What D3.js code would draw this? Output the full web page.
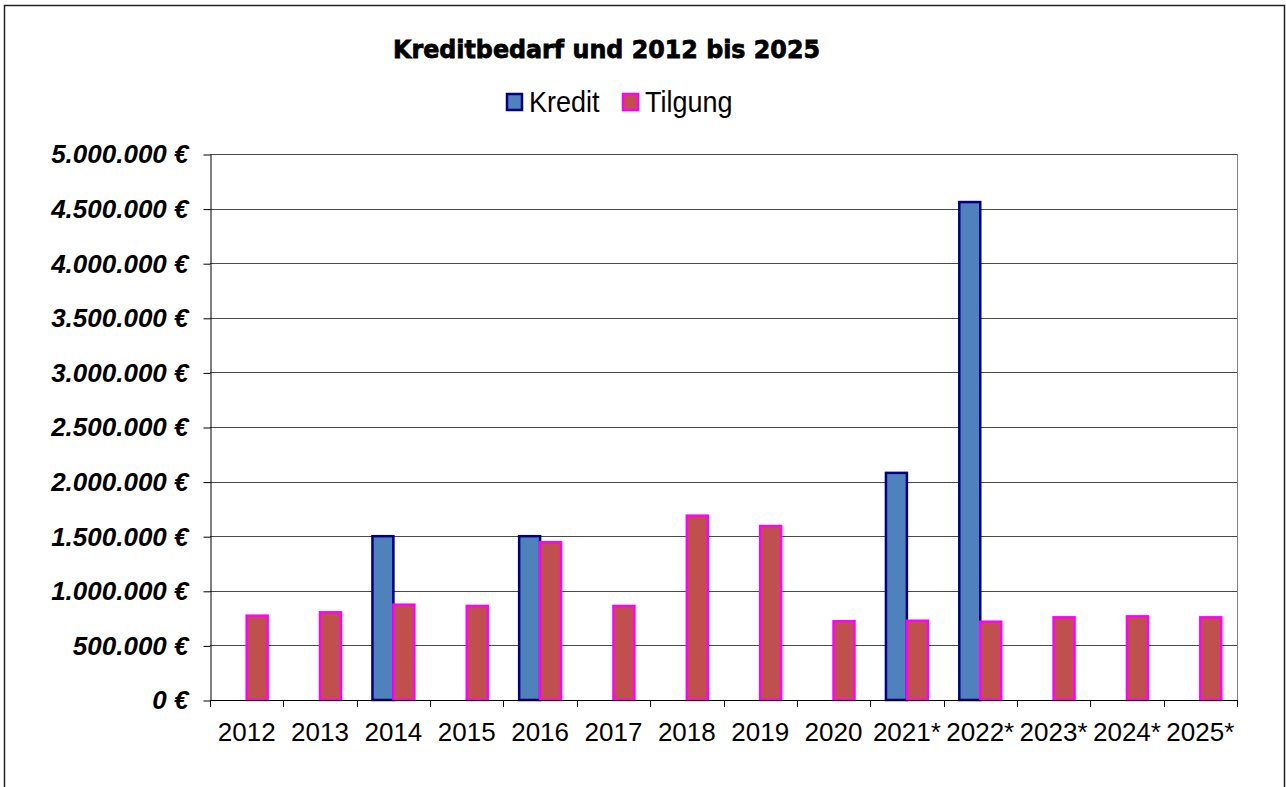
<!DOCTYPE html>
<html>
<head>
<meta charset="utf-8">
<script src="https://cdn.jsdelivr.net/npm/d3@7"></script>
<style>
  body { margin: 0; background: #fff; }
  svg { display: block; }
</style>
</head>
<body>
<div id="chart"></div>
<script>
// data
const years = ['2012', '2013', '2014', '2015', '2016', '2017', '2018', '2019', '2020',
    '2021*', '2022*', '2023*', '2024*', '2025*'];
const kredit = [0, 0, 1500000, 0, 1500000, 0, 0, 0, 0, 2080000, 4560000, 0, 0, 0];
const tilgung = [772000, 803000, 873000, 861000, 1445000, 861000, 1688000, 1593000,
    721000, 726000, 717000, 757000, 766000, 757000];
const seriesNames = ['Kredit', 'Tilgung'];
const yTicks = [0, 500000, 1000000, 1500000, 2000000, 2500000, 3000000, 3500000,
    4000000, 4500000, 5000000];

const width = 1286, height = 787;
const plot = {left: 210, top: 154, right: 1237, bottom: 700};
const fills = {Kredit: '#4F81BD', Tilgung: '#C0504D'};
const strokes = {Kredit: '#000080', Tilgung: '#FF00FF'};

let svg = d3.select('#chart').append('svg')
    .attr('width', width)
    .attr('height', height)
    .style('font-family', '"Liberation Sans", Arial, sans-serif');

// outer frame of the chart object
svg.append('rect')
    .attr('x', 4.5).attr('y', 5.5)
    .attr('width', 1280).attr('height', 800)
    .attr('fill', 'none')
    .attr('stroke', '#222')
    .attr('stroke-width', 1.5);

let xScale = d3.scaleBand()
    .domain(years)
    .range([plot.left, plot.right])
    .paddingInner(0)
    .paddingOuter(0);

let xSub = d3.scaleBand()
    .domain(seriesNames)
    .range([0, xScale.bandwidth()])
    .paddingInner(0)
    .paddingOuter(0.75);

let yScale = d3.scaleLinear()
    .domain([0, 5000000])
    .range([plot.bottom, plot.top]);

const de = d3.formatLocale({decimal: ',', thousands: '.', grouping: [3], currency: ['', ' €']});
const fmt = de.format(',.0f');

// gridlines
svg.append('g')
    .selectAll('line')
    .data(yTicks)
    .join('line')
    .attr('x1', plot.left)
    .attr('x2', plot.right)
    .attr('y1', d => Math.round(yScale(d)) + 0.5)
    .attr('y2', d => Math.round(yScale(d)) + 0.5)
    .attr('stroke', '#4a4a4a')
    .attr('stroke-width', 1);

// right border of the plot area
svg.append('line')
    .attr('x1', plot.right + 0.5).attr('x2', plot.right + 0.5)
    .attr('y1', plot.top).attr('y2', plot.bottom)
    .attr('stroke', '#808080');

// y axis
let yAxis = svg.append('g')
    .attr('transform', `translate(${plot.left + 0.5}, 0.5)`)
    .call(d3.axisLeft(yScale)
        .tickValues(yTicks)
        .tickSize(7)
        .tickSizeOuter(0)
        .tickPadding(15)
        .tickFormat(d => fmt(d) + ' €'));
yAxis.select('.domain').attr('stroke', '#000');
yAxis.selectAll('.tick line').attr('stroke', '#000');
yAxis.selectAll('text')
    .attr('fill', '#000')
    .style('font-family', '"Liberation Sans", Arial, sans-serif')
    .style('font-size', '26px')
    .style('font-weight', 'bold')
    .style('font-style', 'italic');

// bars
let groups = svg.append('g')
    .selectAll('g')
    .data(years.map((y, i) => ({year: y, Kredit: kredit[i], Tilgung: tilgung[i]})))
    .join('g')
    .attr('transform', d => `translate(${xScale(d.year)}, 0)`);

groups.selectAll('rect')
    .data(d => seriesNames.map(k => ({key: k, value: d[k]})).filter(e => e.value > 0))
    .join('rect')
    .attr('x', d => xSub(d.key))
    .attr('y', d => yScale(d.value))
    .attr('width', xSub.bandwidth())
    .attr('height', d => plot.bottom - yScale(d.value))
    .attr('fill', d => fills[d.key])
    .attr('stroke', d => strokes[d.key])
    .attr('stroke-width', 2.5);

// x axis line and boundary ticks
svg.append('line')
    .attr('x1', plot.left).attr('x2', plot.right + 1)
    .attr('y1', plot.bottom + 0.5).attr('y2', plot.bottom + 0.5)
    .attr('stroke', '#000');

let boundaries = years.map(y => xScale(y)).concat([plot.right]);
svg.append('g')
    .selectAll('line')
    .data(boundaries)
    .join('line')
    .attr('x1', d => Math.round(d) + 0.5)
    .attr('x2', d => Math.round(d) + 0.5)
    .attr('y1', plot.bottom)
    .attr('y2', plot.bottom + 7)
    .attr('stroke', '#000');

svg.append('g')
    .selectAll('text')
    .data(years)
    .join('text')
    .attr('x', d => xScale(d) + xScale.bandwidth() / 2)
    .attr('y', 741)
    .attr('text-anchor', 'middle')
    .attr('font-size', '26px')
    .attr('fill', '#000')
    .text(d => d);

// title (heavy face squeezed to the reference width)
svg.append('text')
    .attr('x', 393)
    .attr('y', 58)
    .attr('textLength', 427)
    .attr('lengthAdjust', 'spacingAndGlyphs')
    .style('font-family', '"DejaVu Sans", sans-serif')
    .style('font-weight', 'bold')
    .style('font-size', '25px')
    .attr('fill', '#000')
    .attr('stroke', '#000')
    .attr('stroke-width', 0.8)
    .text('Kreditbedarf und 2012 bis 2025');

// legend
let legend = svg.append('g')
    .selectAll('g')
    .data(seriesNames)
    .join('g')
    .attr('transform', (d, i) => `translate(${[507, 623][i]}, 0)`);

legend.append('rect')
    .attr('x', 0).attr('y', 94)
    .attr('width', 15).attr('height', 16)
    .attr('fill', d => fills[d])
    .attr('stroke', d => strokes[d])
    .attr('stroke-width', 2.5);

legend.append('text')
    .attr('transform', 'translate(22, 112) scale(1, 1.12)')
    .attr('font-size', '27px')
    .attr('fill', '#000')
    .text(d => d);
</script>
</body>
</html>
